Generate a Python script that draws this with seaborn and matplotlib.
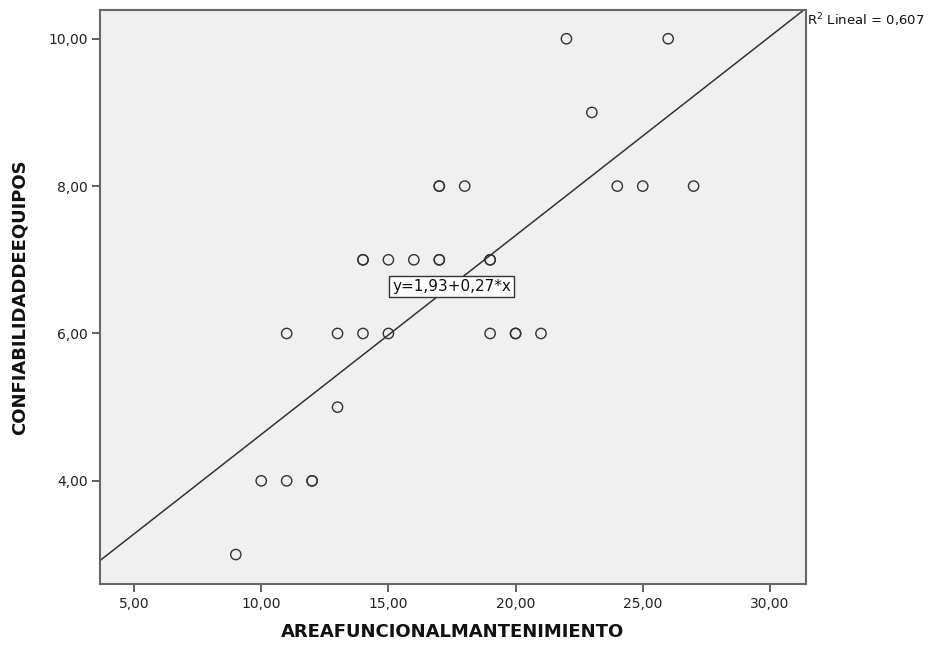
import numpy as np
import pandas as pd
import matplotlib
matplotlib.use("Agg")
import matplotlib.pyplot as plt
import seaborn as sns

# Data (duplicates drawn as bolder circles)
area = [9, 10, 11, 12, 12, 11, 13, 13, 14, 15, 14, 14, 15, 16, 17, 17,
        19, 19, 19, 20, 20, 21, 17, 17, 18, 24, 25, 27, 23, 22, 26]
confiab = [3, 4, 4, 4, 4, 6, 5, 6, 6, 6, 7, 7, 7, 7, 7, 7,
           7, 7, 6, 6, 6, 6, 8, 8, 8, 8, 8, 8, 9, 10, 10]
intercept = 1.93
slope = 0.27
r2_text = "R$^{\\mathsf{2}}$ Lineal = 0,607"
eq_text = "y=1,93+0,27*x"
x_ticks = [5, 10, 15, 20, 25, 30]
y_ticks = [4, 6, 8, 10]

df = pd.DataFrame({"AREAFUNCIONALMANTENIMIENTO": area,
                   "CONFIABILIDADDEEQUIPOS": confiab})

sns.set_theme(style="white")
plt.rcParams['font.family'] = ['DejaVu Sans']
plt.rcParams['mathtext.fontset'] = 'dejavusans'

fig = plt.figure(figsize=(9.38, 6.45), dpi=100)
ax = fig.add_axes([100/938, (645-584)/645, 706/938, 574/645])
ax.set_facecolor("#F0F0F0")

xlim = (3.66, 31.42)
ylim = (2.60, 10.39)

xs = np.array(xlim)
ax.plot(xs, intercept + slope * xs, color="#333333", lw=1.1, zorder=2)

sns.scatterplot(data=df, x="AREAFUNCIONALMANTENIMIENTO", y="CONFIABILIDADDEEQUIPOS",
                ax=ax, s=55, facecolor="none", edgecolor="#333333", linewidth=1.0,
                zorder=3)

ax.set_xlim(xlim)
ax.set_ylim(ylim)
ax.set_xticks(x_ticks)
ax.set_yticks(y_ticks)
ax.set_xticklabels([f"{v:.2f}".replace(".", ",") for v in x_ticks])
ax.set_yticklabels([f"{v:.2f}".replace(".", ",") for v in y_ticks])
ax.tick_params(axis="both", direction="out", length=6, width=1.2, color="#444444",
               labelsize=10, labelcolor="#222222", pad=3, bottom=True, left=True)
for sp in ax.spines.values():
    sp.set_color("#666666")
    sp.set_linewidth(1.5)

ax.set_xlabel("AREAFUNCIONALMANTENIMIENTO", fontsize=13, fontweight="bold",
              color="#111111", labelpad=9)
ax.set_ylabel("CONFIABILIDADDEEQUIPOS", fontsize=13, fontweight="bold",
              color="#111111", labelpad=14)

ax.text(17.48, 6.64, eq_text, ha="center", va="center", fontsize=11, color="#111111",
        bbox=dict(boxstyle="square,pad=0.2", facecolor="white", edgecolor="#333333",
                  linewidth=1.0), zorder=4)

fig.text(807/938, 1 - 20/645, r2_text, ha="left", va="center", fontsize=9.5,
         color="#111111")

fig.savefig("out.png", dpi=100)
